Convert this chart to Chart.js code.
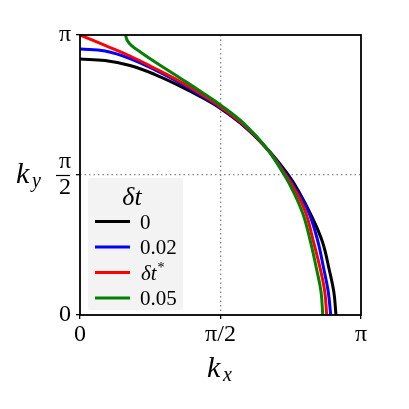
<!DOCTYPE html>
<html>
<head>
<meta charset="utf-8">
<script src="https://cdn.jsdelivr.net/npm/chart.js@4.4.1/dist/chart.umd.min.js"></script>
<style>
  html, body { margin: 0; padding: 0; background: #fff; }
  #wrap { width: 409px; height: 409px; }
</style>
</head>
<body>
<div id="wrap"><canvas id="chartCanvas" width="409" height="409"></canvas></div>
<script>
const PI = Math.PI;

// curves (kx, ky)
const kxBlack = [0, 0.280, 0.559, 0.839, 1.118, 1.342, 1.571, 1.845, 2.124, 2.329, 2.449, 2.588, 2.711, 2.787, 2.838, 2.862];
const kyBlack = [2.872, 2.855, 2.799, 2.698, 2.569, 2.452, 2.317, 2.109, 1.829, 1.571, 1.380, 1.111, 0.819, 0.505, 0.258, 0];

const kxBlue = [0, 0.280, 0.559, 0.839, 1.118, 1.342, 1.571, 1.845, 2.113, 2.309, 2.426, 2.555, 2.655, 2.728, 2.776, 2.803];
const kyBlue = [2.984, 2.962, 2.878, 2.749, 2.603, 2.468, 2.325, 2.115, 1.840, 1.571, 1.391, 1.156, 0.842, 0.505, 0.258, 0];

const kxRed = [0, 0.280, 0.559, 0.839, 1.118, 1.342, 1.571, 1.845, 2.102, 2.298, 2.409, 2.521, 2.605, 2.689, 2.737, 2.758];
const kyRed = [PI, 3.024, 2.906, 2.766, 2.620, 2.485, 2.334, 2.121, 1.851, 1.571, 1.391, 1.156, 0.842, 0.505, 0.258, 0];

const kxGreen = [0.509, 0.526, 0.570, 0.690, 0.839, 1.118, 1.342, 1.571, 1.845, 2.080, 2.284, 2.387, 2.493, 2.572, 2.647, 2.695, 2.714];
const kyGreen = [PI, 3.086, 3.029, 2.940, 2.839, 2.659, 2.513, 2.356, 2.137, 1.879, 1.571, 1.380, 1.133, 0.842, 0.505, 0.258, 0];

const seriesLabels = ['0', '0.02', 'δt*', '0.05'];
const seriesColors = ['#000000', '#0000ff', '#ff0000', '#008000'];

const tickValues = [0, PI / 2, PI];
const xTickLabels = ['0', 'π/2', 'π'];
const yTickLabels = ['0', ['π', '2'], 'π'];

const SERIF = '"Liberation Serif", "DejaVu Serif", serif';

function toPoints(xs, ys) {
    return xs.map((x, i) => ({x: x, y: ys[i]}));
}

const curves = [
    toPoints(kxBlack, kyBlack),
    toPoints(kxBlue, kyBlue),
    toPoints(kxRed, kyRed),
    toPoints(kxGreen, kyGreen)
];

function isHalfPi(ctx) {
    return ctx.tick && Math.abs(ctx.tick.value - PI / 2) < 1e-6;
}

// frame, fraction bar, legend and axis titles
const decorations = {
    id: 'decorations',
    afterDatasetsDraw(chart) {
        const ctx = chart.ctx;
        const a = chart.chartArea;
        ctx.save();
        ctx.strokeStyle = '#000';
        ctx.lineWidth = 1.8;
        ctx.strokeRect(a.left, a.top, a.right - a.left, a.bottom - a.top);

        // legend box
        const lx = 88, ly = 178, lw = 95, lh = 132;
        ctx.fillStyle = 'rgba(242,242,242,0.95)';
        ctx.beginPath();
        ctx.roundRect(lx, ly, lw, lh, 3);
        ctx.fill();

        ctx.fillStyle = '#000';
        ctx.textBaseline = 'alphabetic';
        ctx.textAlign = 'center';
        ctx.font = 'italic 26px ' + SERIF;
        ctx.fillText('δt', 132, 205);

        chart.data.datasets.forEach((ds, i) => {
            const y = 221.5 + i * 25.5;
            ctx.strokeStyle = ds.borderColor;
            ctx.lineWidth = 3;
            ctx.beginPath();
            ctx.moveTo(95, y);
            ctx.lineTo(130, y);
            ctx.stroke();
            ctx.fillStyle = '#000';
            ctx.textAlign = 'left';
            const label = ds.label;
            if (label.endsWith('*')) {
                ctx.font = 'italic 21px ' + SERIF;
                const base = label.slice(0, -1);
                ctx.fillText(base, 141, y + 7);
                const w = ctx.measureText(base).width;
                ctx.font = '14px ' + SERIF;
                ctx.fillText('*', 141 + w + 1, y - 1);
            } else {
                ctx.font = '21px ' + SERIF;
                ctx.fillText(label, 140, y + 7);
            }
        });
        ctx.restore();
    },
    afterDraw(chart) {
        const ctx = chart.ctx;
        const yScale = chart.scales.y;
        ctx.save();
        // fraction bar of the pi/2 tick label
        const yh = yScale.getPixelForValue(PI / 2);
        ctx.strokeStyle = '#000';
        ctx.lineWidth = 1.2;
        ctx.beginPath();
        ctx.moveTo(56, yh + 0.5);
        ctx.lineTo(70, yh + 0.5);
        ctx.stroke();

        // axis titles
        ctx.fillStyle = '#000';
        ctx.textAlign = 'left';
        ctx.textBaseline = 'alphabetic';
        ctx.font = 'italic 30px ' + SERIF;
        ctx.fillText('k', 207, 377);
        ctx.fillText('k', 16, 183);
        ctx.font = 'italic 20px ' + SERIF;
        ctx.fillText('x', 223, 381);
        ctx.fillText('y', 32, 187);
        ctx.restore();
    }
};

const tickFont = {family: SERIF, size: 24, lineHeight: '26px'};

new Chart(document.getElementById('chartCanvas').getContext('2d'), {
    type: 'line',
    data: {
        datasets: curves.map((pts, i) => ({
            label: seriesLabels[i],
            data: pts,
            borderColor: seriesColors[i],
            backgroundColor: seriesColors[i],
            borderWidth: 3,
            pointRadius: 0,
            fill: false,
            tension: 0.4,
            order: curves.length - i
        }))
    },
    options: {
        responsive: false,
        animation: false,
        layout: {padding: {top: 35, right: 48, left: 0, bottom: 0}},
        plugins: {
            legend: {display: false},
            tooltip: {enabled: false}
        },
        scales: {
            x: {
                type: 'linear',
                min: 0,
                max: PI,
                afterBuildTicks: s => { s.ticks = tickValues.map(v => ({value: v})); },
                afterFit: s => { s.height = 94; },
                ticks: {
                    callback: (v, i) => xTickLabels[i],
                    font: tickFont,
                    color: '#000',
                    maxRotation: 0,
                    autoSkip: false,
                    padding: 3
                },
                grid: {
                    color: ctx => isHalfPi(ctx) ? '#888' : 'rgba(0,0,0,0)',
                    lineWidth: 1.3,
                    tickColor: '#000',
                    tickLength: 4,
                    tickWidth: 1.3
                },
                border: {display: false, dash: [1.5, 3]}
            },
            y: {
                type: 'linear',
                min: 0,
                max: PI,
                afterBuildTicks: s => { s.ticks = tickValues.map(v => ({value: v})); },
                afterFit: s => { s.width = 80; },
                ticks: {
                    callback: (v, i) => yTickLabels[i],
                    font: tickFont,
                    color: '#000',
                    autoSkip: false,
                    padding: 5
                },
                grid: {
                    color: ctx => isHalfPi(ctx) ? '#888' : 'rgba(0,0,0,0)',
                    lineWidth: 1.3,
                    tickColor: '#000',
                    tickLength: 4,
                    tickWidth: 1.3
                },
                border: {display: false, dash: [1.5, 3]}
            }
        }
    },
    plugins: [decorations]
});
</script>
</body>
</html>
